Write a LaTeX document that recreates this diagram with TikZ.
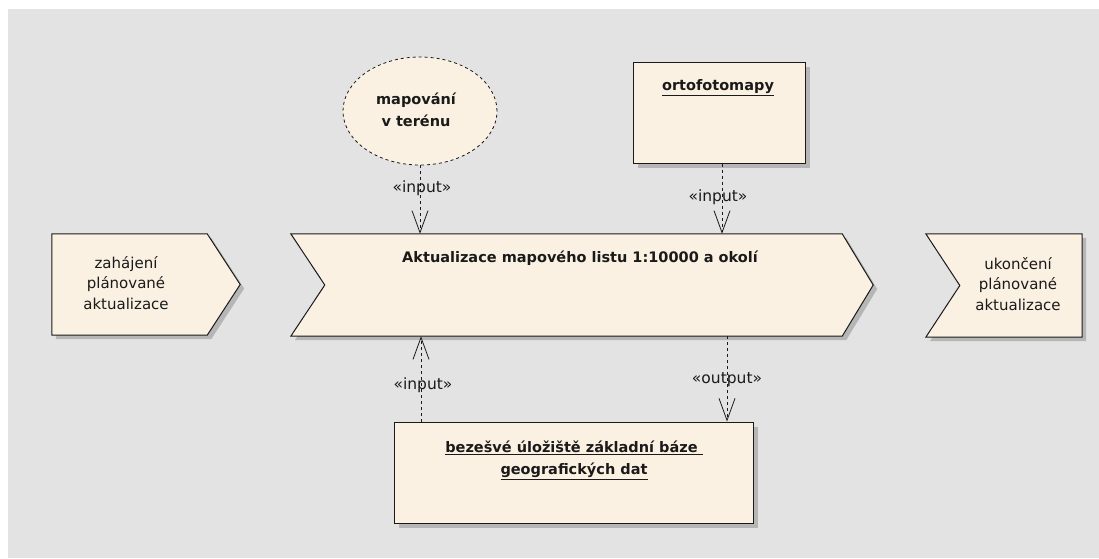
\documentclass[tikz,border=0pt]{standalone}
\usepackage{fontspec}
\setmainfont{DejaVu Sans}
\usetikzlibrary{shapes.geometric,arrows.meta}
\definecolor{bg}{HTML}{E3E3E3}
\definecolor{cream}{HTML}{FBF1E3}
\definecolor{shadowc}{HTML}{B6B6B6}
\definecolor{ink}{HTML}{1A1A1A}
\begin{document}
\begin{tikzpicture}[x=1pt,y=-1pt,
  outline/.style={draw=ink, line width=1pt, fill=cream, line join=miter},
  shade/.style={fill=shadowc, draw=none},
  txt/.style={font=\fontsize{15pt}{20.5pt}\selectfont, text=ink, align=center, inner sep=0pt},
  btxt/.style={txt, font=\fontsize{14.5pt}{22pt}\selectfont\bfseries},
  lbl/.style={font=\fontsize{15.5pt}{17pt}\selectfont, text=ink, inner sep=0pt},
  frame/.style={draw=none, inner sep=0pt},
  dep/.style={draw=ink, line width=0.8pt, dash pattern=on 3pt off 3pt,
    -{Straight Barb[length=22pt,width=16pt,line width=0.8pt]}}]
% background
\useasboundingbox (0,0) rectangle (1099,558);
\fill[white] (0,0) rectangle (1099,558);
\fill[bg] (8,9) rectangle (1099,558);

% invisible frames for shapes
\node[frame, minimum width=582pt, minimum height=102pt] (main) at (582,285) {};
\node[frame, minimum width=188pt, minimum height=101pt] (start) at (146,284.5) {};
\node[frame, minimum width=156pt, minimum height=103pt] (stop) at (1004,285.5) {};

% shadows
\fill[shade] ([shift={(4,4)}]main.north west) -- ([shift={(-27,4)}]main.north east)
  -- ([shift={(4,4)}]main.east) -- ([shift={(-27,4)}]main.south east)
  -- ([shift={(4,4)}]main.south west) -- ([shift={(38,4)}]main.west) -- cycle;
\fill[shade] ([shift={(4,4)}]start.north west) -- ([shift={(-29,4)}]start.north east)
  -- ([shift={(4,4)}]start.east) -- ([shift={(-29,4)}]start.south east)
  -- ([shift={(4,4)}]start.south west) -- cycle;
\fill[shade] ([shift={(4,4)}]stop.north west) -- ([shift={(4,4)}]stop.north east)
  -- ([shift={(4,4)}]stop.south east) -- ([shift={(4,4)}]stop.south west)
  -- ([shift={(38,4)}]stop.west) -- cycle;
\fill[shade] (638,67) rectangle (810,168);
\fill[shade] (399,427) rectangle (758,528);

% main chevron
\draw[outline] (main.north west) -- ([xshift=-31]main.north east) -- (main.east)
  -- ([xshift=-31]main.south east) -- (main.south west) -- ([xshift=34]main.west) -- cycle;
\node[btxt] (maint) at (580,258) {Aktualizace mapového listu 1:10000 a okolí};

% start event
\draw[outline] (start.north west) -- ([xshift=-33]start.north east) -- (start.east)
  -- ([xshift=-33]start.south east) -- (start.south west) -- cycle;
\node[txt] (startt) at (126,283) {zahájení\\plánované\\aktualizace};

% end event
\draw[outline] (stop.north west) -- (stop.north east) -- (stop.south east)
  -- (stop.south west) -- ([xshift=34]stop.west) -- cycle;
\node[txt] (stopt) at (1018,284) {ukončení\\plánované\\aktualizace};

% ellipse
\node[ellipse, draw=ink, line width=0.8pt, dash pattern=on 3pt off 3pt, fill=cream,
  minimum width=154pt, minimum height=108pt, inner sep=0pt] (map) at (420,111) {};
\node[btxt] (mapt) at (416,110) {mapování\\v terénu};

% ortofotomapy
\node[outline, rectangle, minimum width=172pt, minimum height=101pt, inner sep=0pt] (orto) at (719,112.5) {};
\node[btxt] (ortot) at (718,88) {\underline{ortofotomapy}};

% bottom store
\node[outline, rectangle, minimum width=359pt, minimum height=101pt, inner sep=0pt] (store) at (573.5,472.5) {};
\node[btxt] (storet) at (574,460) {\underline{bezešvé úložiště základní báze\ }\\\underline{geografických dat}};

% connectors
\coordinate (a1) at (map.south);
\draw[dep] (a1) -- (a1 |- main.north);
\node[lbl] (l1) at (422,188) {«input»};

\coordinate (a2) at ([xshift=3]orto.south);
\draw[dep] (a2) -- (a2 |- main.north);
\node[lbl] (l2) at (718,197) {«input»};

\coordinate (a3) at (421,422);
\draw[dep] (a3 |- store.north) -- (a3 |- main.south);
\node[lbl] (l3) at (423,385) {«input»};

\coordinate (a4) at (727,336);
\draw[dep] (a4 |- main.south) -- (a4 |- store.north);
\node[lbl] (l4) at (727,380) {«output»};
\end{tikzpicture}
\end{document}
